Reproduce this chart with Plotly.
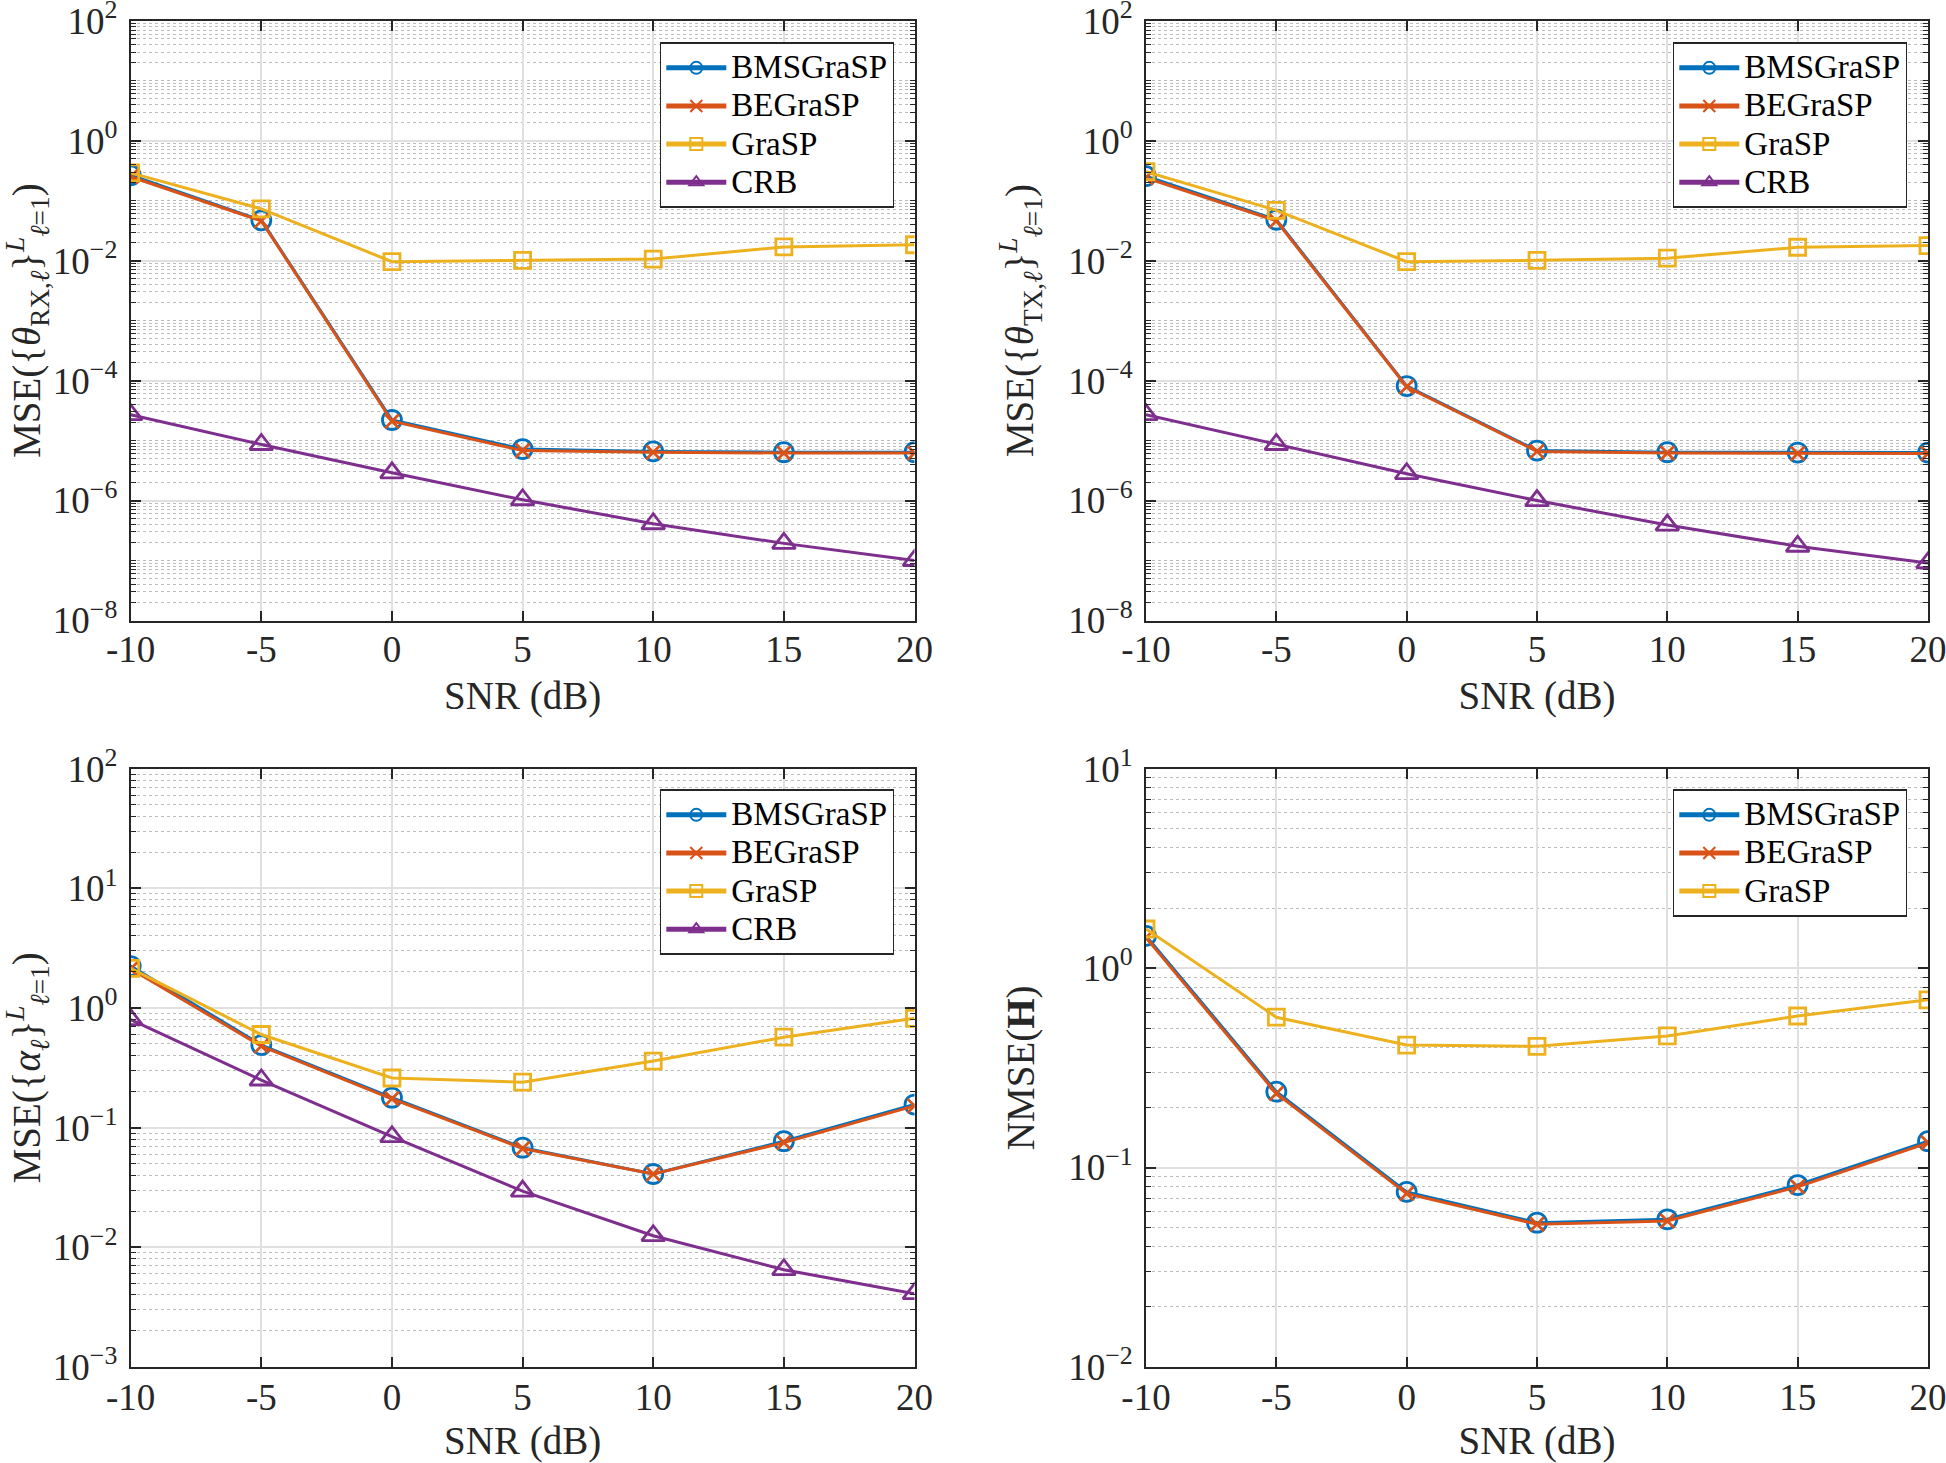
import plotly.graph_objects as go

# ---------------- data ----------------
snr = [-10, -5, 0, 5, 10, 15, 20]
snr_ticktext = ["-10", "-5", "0", "5", "10", "15", "20"]
series_names = ["BMSGraSP", "BEGraSP", "GraSP", "CRB"]

# MSE of receive angles
rx_bmsgrasp = [0.265, 0.047, 2.2e-5, 7.2e-6, 6.6e-6, 6.4e-6, 6.4e-6]
rx_begrasp = [0.25, 0.046, 2.1e-5, 6.8e-6, 6.4e-6, 6.2e-6, 6.2e-6]
rx_grasp = [0.29, 0.073, 0.0096, 0.0101, 0.0106, 0.0169, 0.0184]
rx_crb = [2.7e-5, 8.6e-6, 2.9e-6, 1.03e-6, 4.1e-7, 1.93e-7, 1.0e-7]

# MSE of transmit angles
tx_bmsgrasp = [0.256, 0.048, 8.1e-5, 6.8e-6, 6.4e-6, 6.3e-6, 6.3e-6]
tx_begrasp = [0.24, 0.046, 7.9e-5, 6.6e-6, 6.2e-6, 6.1e-6, 6.1e-6]
tx_grasp = [0.305, 0.069, 0.0096, 0.0101, 0.0110, 0.0167, 0.0178]
tx_crb = [2.7e-5, 8.6e-6, 2.8e-6, 1.0e-6, 3.9e-7, 1.73e-7, 9.1e-8]

# MSE of path gains
alpha_bmsgrasp = [2.24, 0.49, 0.178, 0.068, 0.041, 0.077, 0.156]
alpha_begrasp = [2.12, 0.48, 0.174, 0.067, 0.041, 0.075, 0.152]
alpha_grasp = [2.14, 0.60, 0.26, 0.24, 0.36, 0.57, 0.82]
alpha_crb = [0.80, 0.25, 0.084, 0.0295, 0.0125, 0.0065, 0.0041]

# NMSE of channel
h_bmsgrasp = [1.45, 0.24, 0.0755, 0.0529, 0.055, 0.0817, 0.1355]
h_begrasp = [1.42, 0.235, 0.074, 0.052, 0.054, 0.080, 0.133]
h_grasp = [1.57, 0.567, 0.411, 0.405, 0.457, 0.575, 0.693]

# ---------------- style ----------------
W, H = 1946, 1463
FONT = "Liberation Serif"
AX = "#262626"
colors = ["#0072BD", "#D95319", "#EDB120", "#7E2F8E"]
symbols = ["circle-open", "x-thin-open", "square-open", "triangle-up-open"]
msizes = [19, 14, 16, 20]

def px_x(a, b):
    return [a / W, b / W]

def px_y(top, bottom):
    return [1 - bottom / H, 1 - top / H]

panels = [
    dict(xa="x", ya="y", xd=px_x(130.7, 914.5), yd=px_y(20.7, 620.5), dec=(-8, 2), step=2,
         series=[rx_bmsgrasp, rx_begrasp, rx_grasp, rx_crb], legend="legend",
         leg=(894.5, 42), tstand=-5,
         ytitle="MSE({<i>θ</i><sub>RX,<i>ℓ</i></sub>}<sup><i>L</i></sup><sub><i>ℓ</i>=1</sub>)"),
    dict(xa="x2", ya="y2", xd=px_x(1146, 1928), yd=px_y(20.7, 620.5), dec=(-8, 2), step=2,
         series=[tx_bmsgrasp, tx_begrasp, tx_grasp, tx_crb], legend="legend2",
         leg=(1907.5, 42), tstand=-5,
         ytitle="MSE({<i>θ</i><sub>TX,<i>ℓ</i></sub>}<sup><i>L</i></sup><sub><i>ℓ</i>=1</sub>)"),
    dict(xa="x3", ya="y3", xd=px_x(130.7, 914.5), yd=px_y(768.6, 1367), dec=(-3, 2), step=1,
         series=[alpha_bmsgrasp, alpha_begrasp, alpha_grasp, alpha_crb], legend="legend3",
         leg=(894.5, 789), tstand=-3,
         ytitle="MSE({<i>α</i><sub><i>ℓ</i></sub>}<sup><i>L</i></sup><sub><i>ℓ</i>=1</sub>)"),
    dict(xa="x4", ya="y4", xd=px_x(1146, 1928), yd=px_y(768.6, 1367), dec=(-2, 1), step=1,
         series=[h_bmsgrasp, h_begrasp, h_grasp], legend="legend4",
         leg=(1907.5, 789), tstand=-3,
         ytitle="NMSE(<b>H</b>)"),
]

def sup_exp(k):
    return "10<sup>%s</sup>" % (str(k).replace("-", "\u2212"))

LEG_TEXT = 33

fig = go.Figure()
layout = dict(
    width=W, height=H, autosize=False,
    margin=dict(l=0, r=0, t=0, b=0, pad=0, autoexpand=False),
    paper_bgcolor="white", plot_bgcolor="white",
    font=dict(family=FONT, color=AX, size=36),
    showlegend=True,
)

for i, p in enumerate(panels):
    for j, ys in enumerate(p["series"]):
        fig.add_trace(go.Scatter(
            x=snr, y=ys, mode="lines+markers",
            name='<span style="font-size:%dpx">%s</span>' % (LEG_TEXT, series_names[j]),
            xaxis=p["xa"], yaxis=p["ya"], legend=p["legend"],
            line=dict(color=colors[j], width=3),
            marker=dict(symbol=symbols[j], size=msizes[j], color=colors[j],
                        line=dict(color=colors[j], width=2.8)),
        ))
    lo, hi = p["dec"]
    st = p["step"]
    major_k = [k for k in range(lo, hi + 1) if (k - lo) % st == 0]
    major = [10.0 ** k for k in major_k]
    minor = [m * 10.0 ** k for k in range(lo, hi) for m in range(2, 10)]
    minor += [10.0 ** k for k in range(lo, hi + 1) if k not in major_k]
    xkey = "xaxis" + ("" if i == 0 else str(i + 1))
    ykey = "yaxis" + ("" if i == 0 else str(i + 1))
    layout[xkey] = dict(
        domain=p["xd"], anchor=p["ya"], range=[-10, 20], automargin=False,
        tickvals=snr, ticktext=snr_ticktext, ticklabeloverflow="allow",
        ticks="inside", ticklen=10, tickwidth=1.6, tickcolor=AX,
        showline=True, linecolor=AX, linewidth=1.8, mirror="allticks",
        showgrid=True, gridcolor="#e0e0e0", gridwidth=1.5, zeroline=False,
        tickfont=dict(size=37, family=FONT, color=AX),
        ticklabelstandoff=p["tstand"],
        title=dict(text="SNR (dB)", font=dict(size=39, family=FONT, color=AX), standoff=13),
    )
    layout[ykey] = dict(
        domain=p["yd"], anchor=p["xa"], type="log", range=[lo - 1e-4, hi + 1e-4],
        automargin=False, ticklabeloverflow="allow",
        tickvals=major, ticktext=[sup_exp(k) for k in major_k],
        ticks="inside", ticklen=10, tickwidth=1.6, tickcolor=AX,
        showline=True, linecolor=AX, linewidth=1.8, mirror="allticks",
        showgrid=True, gridcolor="#e0e0e0", gridwidth=1.5, zeroline=False,
        tickfont=dict(size=37, family=FONT, color=AX),
        ticklabelstandoff=4,
        minor=dict(tickvals=minor, ticks="inside", ticklen=5, tickwidth=1.2, tickcolor=AX,
                   showgrid=True, gridcolor="#bcbcbc", griddash="dot", gridwidth=1.3),
        title=dict(text=p["ytitle"], font=dict(size=39, family=FONT, color=AX), standoff=22),
    )
    layout[p["legend"]] = dict(
        x=p["leg"][0] / W, y=1 - p["leg"][1] / H, xanchor="right", yanchor="top",
        bgcolor="white", bordercolor=AX, borderwidth=1.8,
        font=dict(family=FONT, size=27, color="black"),
        tracegroupgap=0, itemsizing="constant", itemwidth=60,
    )

fig.update_layout(**layout)
fig.write_html("out.html", config={"displayModeBar": False},
               post_script="document.body.style.margin='0px';")
